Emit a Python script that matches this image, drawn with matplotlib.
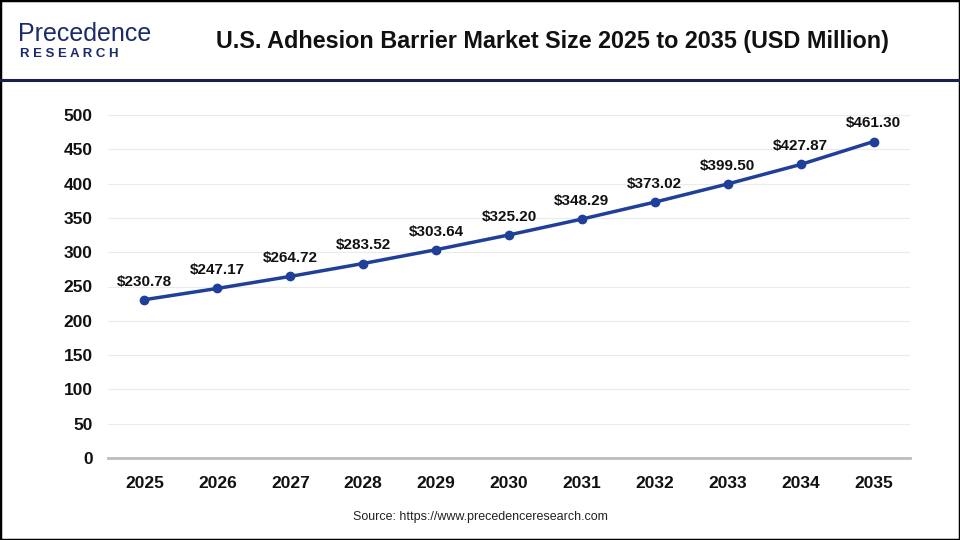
import matplotlib
matplotlib.use("Agg")
import matplotlib.pyplot as plt
from matplotlib.patches import Rectangle
from matplotlib.lines import Line2D

years = ["2025", "2026", "2027", "2028", "2029", "2030", "2031", "2032", "2033", "2034", "2035"]
values = [230.78, 247.17, 264.72, 283.52, 303.64, 325.20, 348.29, 373.02, 399.50, 427.87, 461.30]
yticks = [0, 50, 100, 150, 200, 250, 300, 350, 400, 450, 500]

plt.rcParams['font.family'] = ['Liberation Sans', 'DejaVu Sans']

fig = plt.figure(figsize=(9.6, 5.4), dpi=100)
fig.patch.set_facecolor('white')

ax = fig.add_axes([108/960, 1-458/540, (910-108)/960, (458-115)/540])
x = list(range(len(years)))
ax.plot(x, values, color='#1f3f99', lw=2.5, marker='o', ms=6, zorder=3)
for xi, v in zip(x, values):
    ax.annotate(f"${v:.2f}", (xi, v), xytext=(0, 8), textcoords='offset points',
                ha='center', va='bottom', fontsize=11, fontweight='bold', color='#111111',
                annotation_clip=False)
ax.set_xlim(-0.5, len(years) - 0.5)
ax.set_ylim(0, 500)
ax.set_yticks(yticks)
ax.set_xticks(x)
ax.set_xticklabels(years)
ax.tick_params(axis='both', length=0, labelsize=12.5, colors='#111111')
ax.tick_params(axis='y', pad=11)
ax.tick_params(axis='x', pad=13)
for lab in ax.get_xticklabels() + ax.get_yticklabels():
    lab.set_fontweight('bold')
ax.grid(axis='y', color='#ebebeb', lw=0.8)
ax.set_axisbelow(True)
for s in ['top', 'right', 'left']:
    ax.spines[s].set_visible(False)
ax.spines['bottom'].set_color('#bdbdbd')
ax.spines['bottom'].set_linewidth(2)

# header
fig.add_artist(Line2D([0, 1], [1-80/540, 1-80/540], color='#1a1f4d', lw=2.2, transform=fig.transFigure))
fig.text(552/960, 1-42/540, "U.S. Adhesion Barrier Market Size 2025 to 2035 (USD Million)",
         ha='center', va='center', fontsize=16.8, fontweight='bold', color='#111111')
# logo
fig.text(18/960, 1-34/540, "Precedence", ha='left', va='center', fontsize=18,
         color='#1a2a6c')
fig.text(20/960, 1-54/540, "R E S E A R C H", ha='left', va='center', fontsize=9.5,
         color='#1a2a6c', fontweight='bold')

fig.text(480/960, 1-517/540, "Source: https://www.precedenceresearch.com", ha='center', va='center',
         fontsize=9, color='#222222')

fig.add_artist(Rectangle((0, 0), 1, 1, transform=fig.transFigure, fill=False, ec='black', lw=2.5))

fig.savefig("out.png", dpi=100, facecolor='white')
